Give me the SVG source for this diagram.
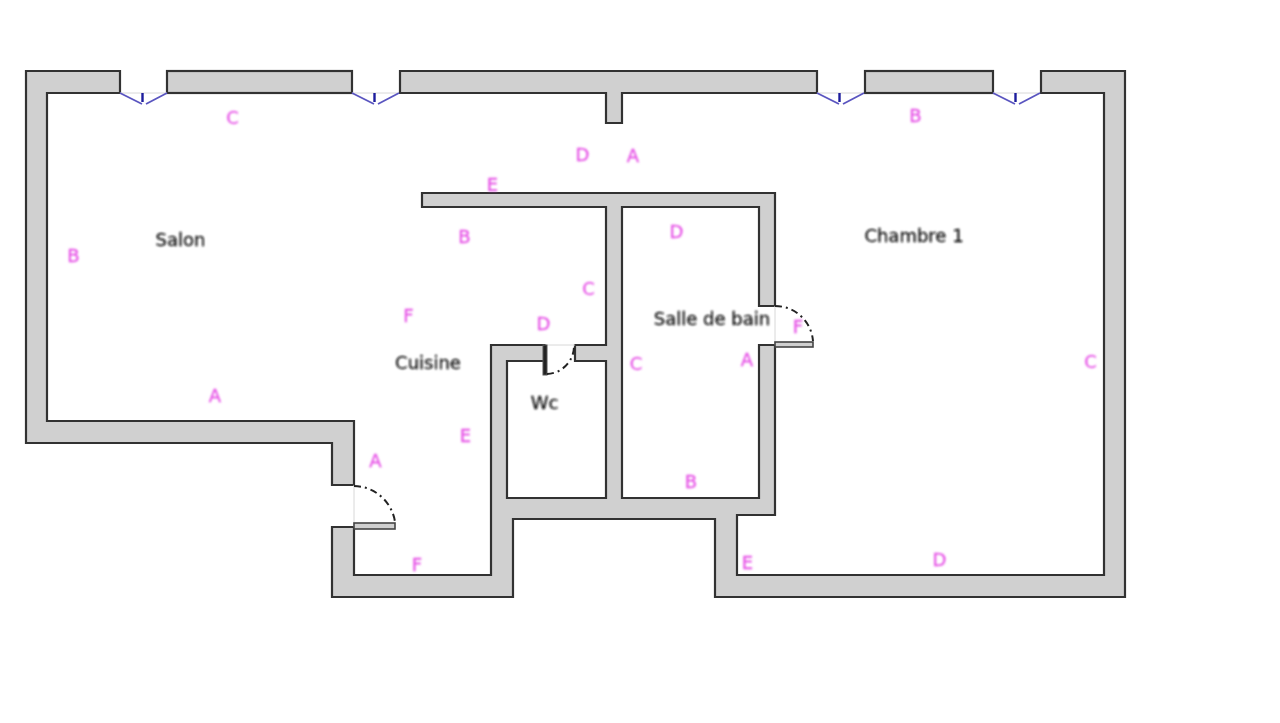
<svg xmlns="http://www.w3.org/2000/svg" width="1280" height="723" viewBox="0 0 1280 723">
<style>
.wall{fill:#d0d0d0;stroke:#333;stroke-width:2.200;stroke-linejoin:miter}
.leaf{fill:#d0d0d0;stroke:#444;stroke-width:1.600}
.arc{fill:none;stroke:#222;stroke-width:2;stroke-dasharray:7 4 2 4}
.gap{fill:none;stroke:#d8d8d8;stroke-width:1}
.win{fill:none;stroke:#5a55c0;stroke-width:1.800}
.tick{fill:none;stroke:#1c1c9c;stroke-width:2.400}
text{font-family:"DejaVu Sans",sans-serif;font-size:18px;text-anchor:middle}
.room{fill:#111;stroke:#111;stroke-width:.3}
.m{fill:#e650e6;stroke:#e650e6;stroke-width:.3}
</style>
<defs>
<filter id="soft" x="-2%" y="-2%" width="104%" height="104%"><feGaussianBlur stdDeviation="0.6"/></filter>
<filter id="softer" x="-2%" y="-2%" width="104%" height="104%"><feGaussianBlur stdDeviation="0.8"/></filter>
<g id="window"><path class="gap" d="M0 0H47"/><path class="win" d="M0 0L22 11M26 11L47 0"/><path class="tick" d="M22.500 0V9"/></g>
</defs>
<rect width="1280" height="723" fill="#fff"/>
<g filter="url(#soft)">
<g id="walls">
<path class="wall" d="M120 71H26V443H332V485H354V421H47V93H120Z"/>
<rect class="wall" x="167" y="71" width="185" height="22"/>
<path class="wall" d="M400 71H817V93H622V123H606V93H400Z"/>
<rect class="wall" x="865" y="71" width="128" height="22"/>
<path class="wall" d="M1041 71H1125V597H715V519H513V597H332V527H354V575H491V345H545V361H507V498H606V361H575V345H606V207H422V193H775V306H759V207H622V498H759V345H775V515H737V575H1104V93H1041Z"/>
</g>
<g id="windows">
<use href="#window" x="120" y="93"/>
<use href="#window" x="352" y="93"/>
<use href="#window" x="817" y="93"/>
<use href="#window" x="993" y="93"/>
</g>
<g id="doors">
<path class="gap" d="M354 485V527M775 306V345M545 345H575"/>
<rect class="leaf" x="354" y="523" width="41" height="6"/>
<path class="arc" d="M354 486A42 42 0 0 1 395 522"/>
<rect class="leaf" x="775" y="342" width="38" height="5"/>
<path class="arc" d="M775 306A38 38 0 0 1 813 341"/>
<rect x="543" y="345" width="4" height="30" fill="#222" stroke="#555" stroke-width="1"/>
<path class="arc" d="M547 374A28 28 0 0 0 574 347"/>
</g>
</g>
<g id="labels" filter="url(#softer)">
<text class="room" x="180.500" y="246">Salon</text>
<text class="room" x="914" y="242">Chambre 1</text>
<text class="room" x="712" y="325">Salle de bain</text>
<text class="room" x="428" y="369">Cuisine</text>
<text class="room" x="544.500" y="409">Wc</text>
<text class="m" x="232.500" y="124">C</text>
<text class="m" x="915.500" y="122">B</text>
<text class="m" x="582.500" y="161">D</text>
<text class="m" x="633" y="162">A</text>
<text class="m" x="492.500" y="191">E</text>
<text class="m" x="676.500" y="238">D</text>
<text class="m" x="464.500" y="243">B</text>
<text class="m" x="73.500" y="262">B</text>
<text class="m" x="588.500" y="295">C</text>
<text class="m" x="408.500" y="322">F</text>
<text class="m" x="543.500" y="330">D</text>
<text class="m" x="798" y="333">F</text>
<text class="m" x="747" y="366">A</text>
<text class="m" x="636" y="370">C</text>
<text class="m" x="1090.500" y="368">C</text>
<text class="m" x="215" y="402">A</text>
<text class="m" x="465.500" y="442">E</text>
<text class="m" x="375.500" y="467">A</text>
<text class="m" x="691" y="488">B</text>
<text class="m" x="939.500" y="566">D</text>
<text class="m" x="747.500" y="569">E</text>
<text class="m" x="417" y="571">F</text>
</g>
</svg>
